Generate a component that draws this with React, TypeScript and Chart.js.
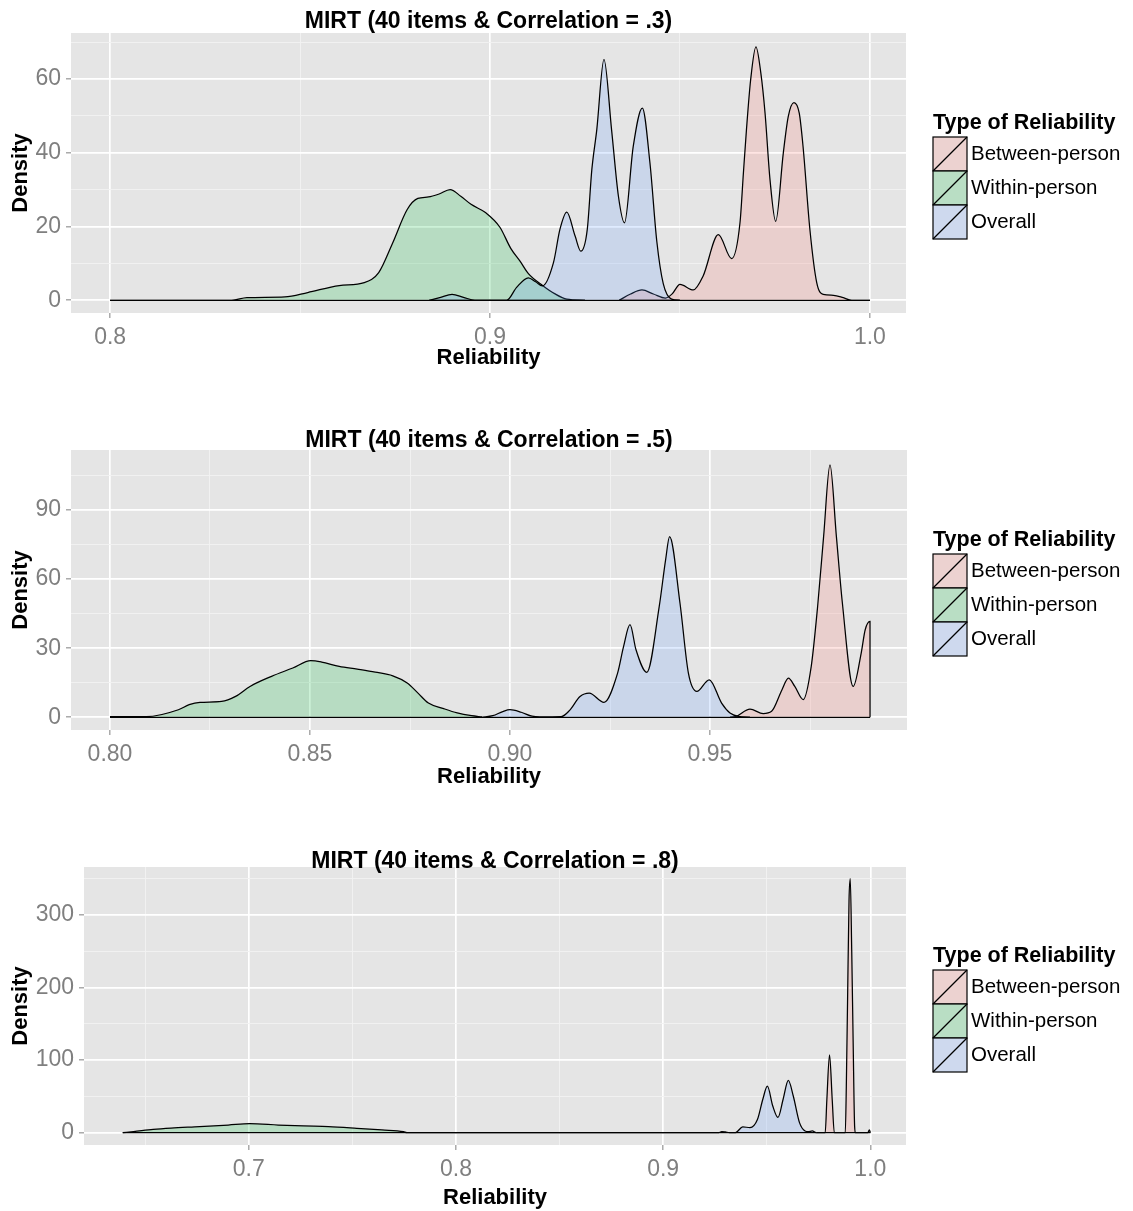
import React, { useEffect, useRef } from "react";
import { Chart, registerables } from "chart.js";

Chart.register(...registerables);

const FONT = '"Liberation Sans", Arial, Helvetica, sans-serif';

// ---------- shared labels ----------
const SERIES_NAMES = ["Between-person", "Within-person", "Overall"];
const LEGEND_TITLE = "Type of Reliability";
const X_TITLE = "Reliability";
const Y_TITLE = "Density";

// ---------- Panel 1 (Correlation = .3) ----------
const P1_TITLE = "MIRT (40 items & Correlation = .3)";
const P1_X_RANGE = [0.7897, 1.0095];
const P1_Y_RANGE = [-3.45, 72.45];
const P1_X_TICKS = [0.8, 0.9, 1.0];
const P1_X_LABELS = ["0.8", "0.9", "1.0"];
const P1_Y_TICKS = [0, 20, 40, 60];
const P1_Y_LABELS = ["0", "20", "40", "60"];

const P1_BETWEEN_X = [0.934, 0.937, 0.94, 0.943, 0.9462, 0.948, 0.95, 0.9535, 0.9561, 0.9601, 0.9636, 0.9658, 0.9667, 0.9675, 0.9686, 0.97, 0.9713, 0.9724, 0.9737, 0.9752, 0.9772, 0.9785, 0.98, 0.9814, 0.9824, 0.9842, 0.986, 0.9877, 0.9904, 0.993, 0.9952, 1.0];
const P1_BETWEEN_Y = [0, 1.7, 2.8, 1.7, 0.6, 1.8, 4.3, 2.8, 6.6, 17.8, 11.3, 21, 34.5, 46.2, 59.7, 68.7, 61.5, 50.7, 32.7, 21.4, 39.9, 49.8, 53.6, 50.7, 41.7, 19.2, 4.8, 1.6, 1.35, 0.7, 0, 0];

const P1_WITHIN_X = [0.8, 0.832, 0.836, 0.846, 0.852, 0.8603, 0.8669, 0.8707, 0.8744, 0.8782, 0.881, 0.8838, 0.8866, 0.8895, 0.8923, 0.895, 0.8989, 0.9026, 0.9055, 0.9079, 0.9101, 0.914, 0.917, 0.9202, 0.925];
const P1_WITHIN_Y = [0, 0, 0.7, 0.9, 2.1, 4.0, 4.8, 7.5, 15.6, 24.6, 27.6, 28, 28.8, 30, 28.2, 26, 23.7, 19.8, 14, 10.6, 7.2, 3.9, 1.8, 0.3, 0];

const P1_OVERALL_X = [0.884, 0.887, 0.89, 0.893, 0.896, 0.9044, 0.907, 0.9101, 0.912, 0.9138, 0.9167, 0.9184, 0.9202, 0.9224, 0.9239, 0.9256, 0.9268, 0.9281, 0.93, 0.932, 0.9338, 0.9354, 0.9377, 0.9401, 0.9421, 0.9439, 0.9456, 0.9478, 0.95];
const P1_OVERALL_Y = [0, 0.8, 1.6, 0.8, 0, 0, 3.5, 6.1, 5.0, 3.9, 10.2, 19.2, 23.9, 17.4, 13.3, 19.2, 35.4, 46.2, 65.3, 46.2, 28.2, 21, 41.7, 52.1, 37.2, 16, 4.5, 0.3, 0];

// ---------- Panel 2 (Correlation = .5) ----------
const P2_TITLE = "MIRT (40 items & Correlation = .5)";
const P2_X_RANGE = [0.79025, 0.99925];
const P2_Y_RANGE = [-5.5, 116];
const P2_X_TICKS = [0.8, 0.85, 0.9, 0.95];
const P2_X_LABELS = ["0.80", "0.85", "0.90", "0.95"];
const P2_Y_TICKS = [0, 30, 60, 90];
const P2_Y_LABELS = ["0", "30", "60", "90"];

const P2_BETWEEN_X = [0.955, 0.9565, 0.96, 0.9633, 0.9654, 0.968, 0.9696, 0.9712, 0.9733, 0.9753, 0.9769, 0.9784, 0.98, 0.9816, 0.9831, 0.9858, 0.9878, 0.9888, 0.99, 0.99001];
const P2_BETWEEN_Y = [0, 0.4, 3.6, 1.6, 2.6, 12, 17, 13.4, 7.7, 22, 48, 78.4, 109.5, 78.4, 49.5, 13.4, 27.9, 38, 41.6, 0];

const P2_WITHIN_X = [0.8, 0.8091, 0.8171, 0.8198, 0.8225, 0.8279, 0.8314, 0.835, 0.8404, 0.8457, 0.8502, 0.8529, 0.8573, 0.8618, 0.8663, 0.8707, 0.8743, 0.877, 0.8796, 0.8832, 0.8868, 0.8904, 0.893];
const P2_WITHIN_Y = [0.3, 0.3, 3.3, 5.5, 6.5, 6.9, 9.1, 13.4, 17.8, 21.4, 24.6, 24, 22.1, 20.9, 19.6, 18, 14.9, 10.5, 6.2, 3.9, 1.9, 0.7, 0.2];

const P2_OVERALL_X = [0.893, 0.8957, 0.8982, 0.9, 0.9028, 0.9055, 0.9075, 0.9128, 0.9149, 0.9175, 0.9198, 0.9235, 0.9269, 0.9284, 0.93, 0.9315, 0.9342, 0.9373, 0.9389, 0.9399, 0.9425, 0.9446, 0.9467, 0.9498, 0.9529, 0.955, 0.9571, 0.96];
const P2_OVERALL_Y = [0, 0.7, 2.5, 3.3, 2.2, 0.5, 0.2, 0.3, 3, 9, 10.5, 6.5, 19.2, 30.8, 40.2, 29.3, 19.5, 48, 68.3, 78.4, 49.5, 19.2, 11.3, 16.3, 6.2, 1.9, 0.4, 0];

// ---------- Panel 3 (Correlation = .8) ----------
const P3_TITLE = "MIRT (40 items & Correlation = .8)";
const P3_X_RANGE = [0.6205, 1.0172];
const P3_Y_RANGE = [-17, 366];
const P3_X_TICKS = [0.7, 0.8, 0.9, 1.0];
const P3_X_LABELS = ["0.7", "0.8", "0.9", "1.0"];
const P3_Y_TICKS = [0, 100, 200, 300];
const P3_Y_LABELS = ["0", "100", "200", "300"];

const P3_BETWEEN_X = [0.974, 0.9782, 0.979, 0.9803, 0.9816, 0.9826, 0.9879, 0.9884, 0.989, 0.9897, 0.9903, 0.991, 0.9917, 0.9924, 0.9928, 0.9988, 0.9995, 1.0];
const P3_BETWEEN_Y = [0, 0, 45, 107, 45, 0, 0, 64, 182, 320, 350, 252, 124, 9, 0, 0, 4, 0];

const P3_WITHIN_X = [0.6392, 0.6444, 0.6539, 0.6625, 0.6763, 0.6901, 0.7005, 0.7143, 0.7264, 0.7385, 0.7522, 0.7643, 0.7747, 0.7763, 0.927];
const P3_WITHIN_Y = [0, 1.5, 4.6, 6.4, 8.3, 10.5, 12.4, 10.5, 9.2, 8.3, 6.0, 3.7, 1.4, 0, 0];

const P3_OVERALL_X = [0.927, 0.9283, 0.93, 0.932, 0.9349, 0.9384, 0.9419, 0.9455, 0.9481, 0.9503, 0.9529, 0.9554, 0.9579, 0.9604, 0.9628, 0.9658, 0.9685, 0.97, 0.972, 0.9738, 0.974];
const P3_OVERALL_Y = [0, 1.5, 1, 0, 0, 8, 6.9, 18, 46, 64, 36.7, 21, 46, 72, 50.5, 13.8, 2.3, 1.5, 2.3, 0, 0];

// ---------- styles / layout ----------
const FILLS = ["rgba(248,118,109,0.2)", "rgba(0,186,56,0.2)", "rgba(97,156,255,0.2)"];
const KEY_FILLS = ["#ECD2D0", "#B9DEC4", "#CED9EE"];
const PANEL_BG = "#E5E5E5";
const MINOR_GRID = "#F2F2F2";
const TICK_GREY = "#7F7F7F";
const LINE_W = 1.25;

type Area = { left: number; top: number; right: number; bottom: number };
type Layout = { top: number; height: number; area: Area; titleBaseline: number; xTitlePad: number };

const LAYOUTS: Layout[] = [
  { top: 0, height: 400, area: { left: 71, top: 33, right: 906, bottom: 313 }, titleBaseline: 28, xTitlePad: 31 },
  { top: 420, height: 400, area: { left: 71, top: 30, right: 907, bottom: 310 }, titleBaseline: 27, xTitlePad: 32.3 },
  { top: 840, height: 371, area: { left: 84, top: 27, right: 906, bottom: 305 }, titleBaseline: 28, xTitlePad: 2 },
];

type PanelData = {
  title: string;
  xRange: number[];
  yRange: number[];
  xTicks: number[];
  xLabels: string[];
  yTicks: number[];
  yLabels: string[];
  series: { x: number[]; y: number[] }[];
};

const PANELS: PanelData[] = [
  {
    title: P1_TITLE, xRange: P1_X_RANGE, yRange: P1_Y_RANGE,
    xTicks: P1_X_TICKS, xLabels: P1_X_LABELS, yTicks: P1_Y_TICKS, yLabels: P1_Y_LABELS,
    series: [
      { x: P1_BETWEEN_X, y: P1_BETWEEN_Y },
      { x: P1_WITHIN_X, y: P1_WITHIN_Y },
      { x: P1_OVERALL_X, y: P1_OVERALL_Y },
    ],
  },
  {
    title: P2_TITLE, xRange: P2_X_RANGE, yRange: P2_Y_RANGE,
    xTicks: P2_X_TICKS, xLabels: P2_X_LABELS, yTicks: P2_Y_TICKS, yLabels: P2_Y_LABELS,
    series: [
      { x: P2_BETWEEN_X, y: P2_BETWEEN_Y },
      { x: P2_WITHIN_X, y: P2_WITHIN_Y },
      { x: P2_OVERALL_X, y: P2_OVERALL_Y },
    ],
  },
  {
    title: P3_TITLE, xRange: P3_X_RANGE, yRange: P3_Y_RANGE,
    xTicks: P3_X_TICKS, xLabels: P3_X_LABELS, yTicks: P3_Y_TICKS, yLabels: P3_Y_LABELS,
    series: [
      { x: P3_BETWEEN_X, y: P3_BETWEEN_Y },
      { x: P3_WITHIN_X, y: P3_WITHIN_Y },
      { x: P3_OVERALL_X, y: P3_OVERALL_Y },
    ],
  },
];

function labelFor(values: number[], labels: string[], v: number): string {
  const i = values.findIndex((t) => Math.abs(t - v) < 1e-9);
  return i >= 0 ? labels[i] : "";
}

// majors plus the half-way (minor) grid positions inside the axis range
function gridValues(values: number[], min: number, max: number): number[] {
  const step = values[1] - values[0];
  const out: number[] = [];
  const n = values.length;
  for (let k = -4; k <= 2 * (n - 1) + 4; k++) {
    const v = Math.round((values[0] + (k * step) / 2) * 1e9) / 1e9;
    if (v >= min && v <= max) out.push(v);
  }
  return out;
}

function buildChart(canvas: HTMLCanvasElement, panel: PanelData, layout: Layout) {
  const a = layout.area;
  const W = 1133;
  const xGrid = gridValues(panel.xTicks, panel.xRange[0], panel.xRange[1]);
  const yGrid = gridValues(panel.yTicks, panel.yRange[0], panel.yRange[1]);
  const isMajorX = (v: number) => labelFor(panel.xTicks, panel.xLabels, v) !== "";
  const isMajorY = (v: number) => labelFor(panel.yTicks, panel.yLabels, v) !== "";

  const datasets = panel.series.map((s, i) => ({
    label: SERIES_NAMES[i],
    data: s.x.map((x, j) => ({ x, y: s.y[j] })),
    borderColor: "#000000",
    borderWidth: LINE_W,
    backgroundColor: FILLS[i],
    fill: "origin",
    pointRadius: 0,
    pointHoverRadius: 0,
    cubicInterpolationMode: "monotone",
    order: 3 - i,
  }));

  const bgPlugin = {
    id: "panelBg",
    beforeDraw(chart: any) {
      const { ctx, chartArea } = chart;
      ctx.save();
      ctx.fillStyle = PANEL_BG;
      ctx.fillRect(chartArea.left, chartArea.top, chartArea.right - chartArea.left, chartArea.bottom - chartArea.top);
      ctx.restore();
    },
  };

  // outline of each density polygon along y = 0 (from the group's first to last x)
  const baselinePlugin = {
    id: "densityBaseline",
    afterDatasetsDraw(chart: any) {
      const { ctx } = chart;
      const xs = chart.scales.x;
      const ys = chart.scales.y;
      const y0 = ys.getPixelForValue(0);
      ctx.save();
      ctx.strokeStyle = "#000000";
      ctx.lineWidth = LINE_W;
      panel.series.forEach((s) => {
        ctx.beginPath();
        ctx.moveTo(xs.getPixelForValue(s.x[0]), y0);
        ctx.lineTo(xs.getPixelForValue(s.x[s.x.length - 1]), y0);
        ctx.stroke();
      });
      ctx.restore();
    },
  };

  const textPlugin = {
    id: "panelText",
    afterDraw(chart: any) {
      const { ctx, chartArea } = chart;
      ctx.save();
      ctx.fillStyle = "#000000";
      ctx.font = `bold 23px ${FONT}`;
      ctx.textAlign = "center";
      ctx.textBaseline = "alphabetic";
      ctx.fillText(panel.title, (chartArea.left + chartArea.right) / 2, layout.titleBaseline);

      const cy = (chartArea.top + chartArea.bottom) / 2;
      const lx = 933;
      const k = 34;
      ctx.textAlign = "left";
      ctx.font = `bold 21.5px ${FONT}`;
      ctx.fillText(LEGEND_TITLE, lx, cy - 44);
      const ky = cy - 36;
      SERIES_NAMES.forEach((name, i) => {
        const y = ky + i * k;
        ctx.fillStyle = KEY_FILLS[i];
        ctx.fillRect(lx, y, k, k);
        ctx.strokeStyle = "#000000";
        ctx.lineWidth = 1.2;
        ctx.strokeRect(lx, y, k, k);
        ctx.beginPath();
        ctx.moveTo(lx, y + k);
        ctx.lineTo(lx + k, y);
        ctx.stroke();
        ctx.fillStyle = "#000000";
        ctx.font = `20.5px ${FONT}`;
        ctx.textBaseline = "middle";
        ctx.fillText(name, lx + k + 4, y + k / 2);
        ctx.textBaseline = "alphabetic";
      });
      ctx.restore();
    },
  };

  return new Chart(canvas, {
    type: "line",
    data: { datasets } as any,
    options: {
      responsive: false,
      maintainAspectRatio: false,
      animation: false,
      devicePixelRatio: 1,
      layout: { padding: { left: 0, top: a.top, right: W - a.right, bottom: 0 } },
      plugins: {
        legend: { display: false },
        title: { display: false },
        tooltip: { enabled: false },
      },
      scales: {
        x: {
          type: "linear",
          min: panel.xRange[0],
          max: panel.xRange[1],
          afterBuildTicks: (scale: any) => {
            scale.ticks = xGrid.map((v) => ({ value: v }));
          },
          afterFit: (scale: any) => {
            scale.height = layout.height - a.bottom;
          },
          ticks: {
            autoSkip: false,
            maxRotation: 0,
            minRotation: 0,
            padding: 6,
            color: TICK_GREY,
            font: { family: FONT, size: 23 },
            callback: (v: any) => labelFor(panel.xTicks, panel.xLabels, Number(v)),
          },
          grid: {
            color: (c: any) => (c.tick && isMajorX(c.tick.value) ? "#FFFFFF" : MINOR_GRID),
            lineWidth: (c: any) => (c.tick && isMajorX(c.tick.value) ? 1.7 : 0.9),
            tickColor: (c: any) => (c.tick && isMajorX(c.tick.value) ? TICK_GREY : "rgba(0,0,0,0)"),
            tickLength: 5,
            tickWidth: 1,
            drawTicks: true,
          },
          border: { display: false },
          title: {
            display: true,
            text: X_TITLE,
            color: "#000000",
            font: { family: FONT, size: 22, weight: "bold", lineHeight: 1 },
            padding: { top: 0, bottom: layout.xTitlePad },
          },
        },
        y: {
          type: "linear",
          min: panel.yRange[0],
          max: panel.yRange[1],
          afterBuildTicks: (scale: any) => {
            scale.ticks = yGrid.map((v) => ({ value: v }));
          },
          afterFit: (scale: any) => {
            scale.width = a.left;
          },
          ticks: {
            autoSkip: false,
            padding: 5,
            color: TICK_GREY,
            font: { family: FONT, size: 23 },
            callback: (v: any) => labelFor(panel.yTicks, panel.yLabels, Number(v)),
          },
          grid: {
            color: (c: any) => (c.tick && isMajorY(c.tick.value) ? "#FFFFFF" : MINOR_GRID),
            lineWidth: (c: any) => (c.tick && isMajorY(c.tick.value) ? 1.7 : 0.9),
            tickColor: (c: any) => (c.tick && isMajorY(c.tick.value) ? TICK_GREY : "rgba(0,0,0,0)"),
            tickLength: 5,
            tickWidth: 1,
            drawTicks: true,
          },
          border: { display: false },
          title: {
            display: true,
            text: Y_TITLE,
            color: "#000000",
            font: { family: FONT, size: 22, weight: "bold", lineHeight: 1 },
            padding: { top: 10, bottom: 0 },
          },
        },
      },
    } as any,
    plugins: [bgPlugin, baselinePlugin, textPlugin],
  });
}

function Panel({ panel, layout }: { panel: PanelData; layout: Layout }) {
  const ref = useRef<HTMLCanvasElement | null>(null);
  useEffect(() => {
    if (!ref.current) return;
    const chart = buildChart(ref.current, panel, layout);
    return () => chart.destroy();
  }, [panel, layout]);
  return (
    <canvas
      ref={ref}
      width={1133}
      height={layout.height}
      style={{ position: "absolute", left: 0, top: layout.top, width: 1133, height: layout.height, display: "block" }}
    />
  );
}

export default function App() {
  return (
    <div style={{ position: "absolute", left: 0, top: 0, width: 1133, height: 1211, background: "#FFFFFF", overflow: "hidden" }}>
      {PANELS.map((p, i) => (
        <Panel key={i} panel={p} layout={LAYOUTS[i]} />
      ))}
    </div>
  );
}
